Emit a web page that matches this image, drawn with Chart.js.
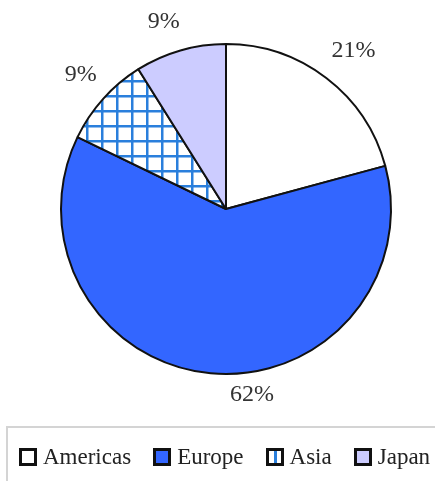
<!DOCTYPE html>
<html>
<head>
<meta charset="utf-8">
<script src="https://cdn.jsdelivr.net/npm/chart.js@4.4.1/dist/chart.umd.min.js"></script>
<style>
    html, body { margin: 0; padding: 0; background: #fff; }
    #wrap { position: relative; width: 435px; height: 481px; overflow: hidden; }
    #pie-chart { position: absolute; left: 0; top: 0; }
    #legend-frame {
        position: absolute; left: 6px; top: 426px; width: 460px; height: 80px;
        border: 2px solid #d4d4d4; box-sizing: border-box;
    }
    #legend {
        position: absolute; left: 19px; top: 444px; display: flex; align-items: center;
        font-family: "Liberation Serif", "Times New Roman", serif; font-size: 23px; color: #222;
        white-space: nowrap;
    }
    .item { display: flex; align-items: center; margin-right: 22px; }
    .box { width: 12px; height: 12px; border: 3px solid #111; margin-right: 6px; }
</style>
</head>
<body>
<div id="wrap">
    <canvas id="pie-chart" width="435" height="481"></canvas>
    <div id="legend-frame"></div>
    <div id="legend"></div>
</div>
<script>
    // Datos del gráfico
    const regions = ['Americas', 'Europe', 'Asia', 'Japan'];
    const shares = [21, 62, 9, 9];

    // Trama de cuadrícula para Asia
    function gridPattern() {
        const c = document.createElement('canvas');
        c.width = 15; c.height = 15;
        const g = c.getContext('2d');
        g.fillStyle = '#ffffff';
        g.fillRect(0, 0, 15, 15);
        g.fillStyle = '#2a7fdc';
        g.fillRect(11, 0, 2.5, 15);
        g.fillRect(0, 5, 15, 2.5);
        return g.createPattern(c, 'repeat');
    }

    const ctx = document.getElementById('pie-chart').getContext('2d');
    const fills = ['#ffffff', '#3366ff', gridPattern(), '#ccccff'];

    // Etiquetas de porcentaje fuera del pastel
    const outsideLabels = {
        id: 'outsideLabels',
        afterDatasetsDraw(chart) {
            const c = chart.ctx;
            const meta = chart.getDatasetMeta(0);
            const nudge = [0.026, -0.232, 0.016, -0.042];
            const extra = [38, 23, 33, 32];
            c.save();
            c.font = '24px "Liberation Serif", "Times New Roman", serif';
            c.fillStyle = '#333333';
            c.textAlign = 'center';
            c.textBaseline = 'middle';
            meta.data.forEach((arc, i) => {
                const p = arc.getProps(['x', 'y', 'startAngle', 'endAngle', 'outerRadius'], true);
                const mid = (p.startAngle + p.endAngle) / 2 + nudge[i];
                const r = p.outerRadius + extra[i];
                c.fillText(shares[i] + '%', p.x + Math.cos(mid) * r, p.y + Math.sin(mid) * r);
            });
            c.restore();
        }
    };

    new Chart(ctx, {
        type: 'pie',
        data: {
            labels: regions,
            datasets: [{
                data: shares,
                backgroundColor: fills,
                borderColor: '#111111',
                borderWidth: 2
            }]
        },
        options: {
            responsive: false,
            animation: false,
            layout: { padding: { left: 60, right: 43, top: 43, bottom: 106 } },
            plugins: {
                legend: { display: false },
                tooltip: { enabled: false }
            }
        },
        plugins: [outsideLabels]
    });

    // Leyenda
    const legendFills = ['#ffffff', '#3366ff',
        'linear-gradient(to right, #fff 0 5px, #2a7fdc 5px 8px, #fff 8px 100%)', '#ccccff'];
    const legend = document.getElementById('legend');
    regions.forEach((name, i) => {
        const item = document.createElement('div');
        item.className = 'item';
        const box = document.createElement('span');
        box.className = 'box';
        box.style.background = legendFills[i];
        item.appendChild(box);
        item.appendChild(document.createTextNode(name));
        legend.appendChild(item);
    });
</script>
</body>
</html>
